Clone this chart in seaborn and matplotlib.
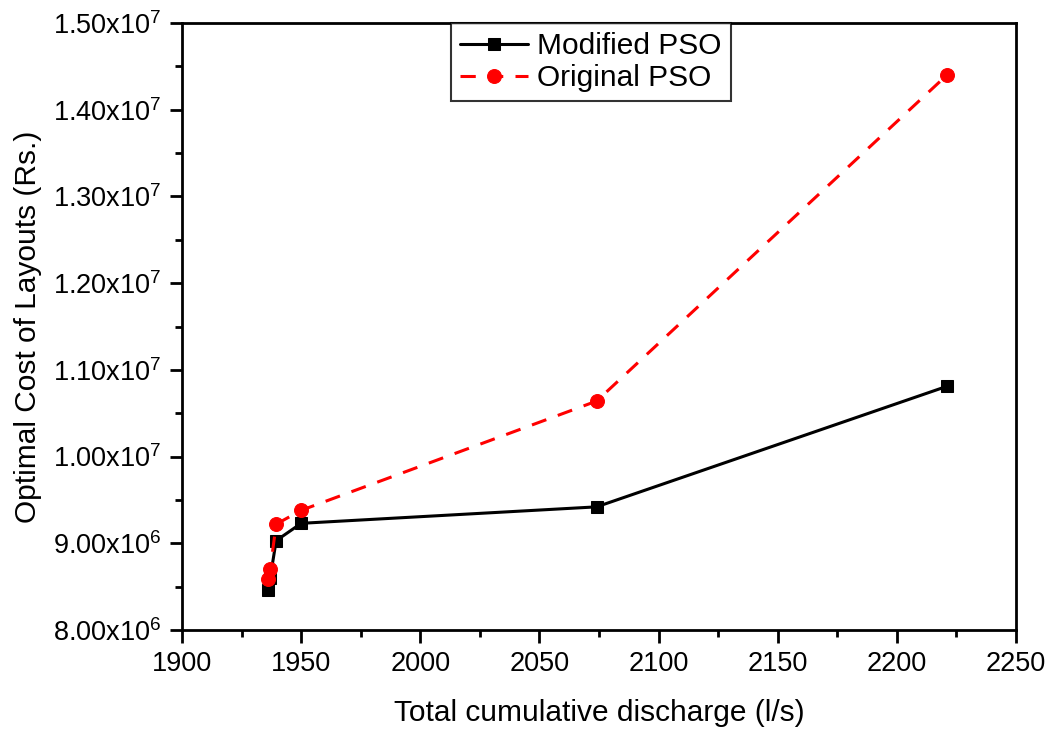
import numpy as np
import matplotlib
matplotlib.use("Agg")
import matplotlib.pyplot as plt
from matplotlib.ticker import FuncFormatter, MultipleLocator
import seaborn as sns

discharge = [1936, 1937, 1939.5, 1950, 2074, 2221]
modified_pso = [8.46e6, 8.60e6, 9.03e6, 9.23e6, 9.42e6, 10.81e6]
original_pso = [8.59e6, 8.70e6, 9.22e6, 9.38e6, 10.64e6, 14.40e6]

sns.set_style("white")
plt.rcParams['font.family'] = ['Liberation Sans', 'DejaVu Sans']
plt.rcParams['mathtext.default'] = 'regular'
for k in ['text.color', 'axes.labelcolor', 'xtick.color', 'ytick.color']:
    plt.rcParams[k] = 'black'

fig = plt.figure(figsize=(10.51, 7.31), dpi=100)
ax = fig.add_axes([0.1732, 0.1382, 0.7935, 0.8303])

sns.lineplot(x=discharge, y=modified_pso, ax=ax, color='black', marker='s',
             markersize=8, markeredgecolor='black', linewidth=2.2, label='Modified PSO')
sns.lineplot(x=discharge, y=original_pso, ax=ax, color='red', marker='o',
             markersize=10, markeredgecolor='red', linewidth=2.2, label='Original PSO')
ax.lines[1].set_dashes([5, 4])

ax.set_xlim(1900, 2250)
ax.set_ylim(8.0e6, 1.5e7)
ax.xaxis.set_major_locator(MultipleLocator(50))
ax.xaxis.set_minor_locator(MultipleLocator(25))
ax.yaxis.set_major_locator(MultipleLocator(1e6))
ax.yaxis.set_minor_locator(MultipleLocator(5e5))


def sci(v, pos):
    e = int(np.floor(np.log10(v)))
    return r"$%.2fx10^{%d}$" % (v / 10 ** e, e)


ax.yaxis.set_major_formatter(FuncFormatter(sci))
ax.tick_params(axis='both', which='major', direction='out', length=9, width=2,
               labelsize=19.5, bottom=True, left=True, pad=6)
ax.tick_params(axis='both', which='minor', direction='out', length=5, width=2,
               bottom=True, left=True)
for s in ax.spines.values():
    s.set_color('black')
    s.set_linewidth(2)

ax.set_xlabel("Total cumulative discharge (l/s)", fontsize=21.5, labelpad=16)
ax.set_ylabel("Optimal Cost of Layouts (Rs.)", fontsize=21.5, labelpad=8)

leg = ax.legend(loc='upper center', bbox_to_anchor=(0.490, 1.0), fontsize=21.5,
                frameon=True, fancybox=False, edgecolor='black', handlelength=2.3,
                borderpad=0.3, labelspacing=0.15, handletextpad=0.3,
                borderaxespad=0)
leg.get_frame().set_linewidth(1.5)

fig.savefig("out.png", dpi=100)
